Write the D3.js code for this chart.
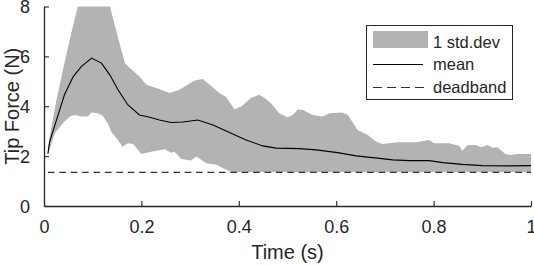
<!DOCTYPE html>
<html lang="en">
<head>
    <meta charset="UTF-8"/>
    <title>Tip Force</title>
    <script src="https://d3js.org/d3.v7.min.js"></script>
    <style>
        body {
            margin: 0;
            background: white;
        }

        text {
            font-family: "Liberation Sans", Arial, sans-serif;
            fill: #262626;
        }
    </style>
</head>
<body>
<div id="chart"></div>

<script>
    // mean tip force
    const meanT = [0.008, 0.012, 0.042, 0.06, 0.077, 0.098, 0.118, 0.135, 0.152, 0.172, 0.196, 0.217, 0.237, 0.261,
        0.285, 0.316, 0.347, 0.374, 0.415, 0.449, 0.477, 0.524, 0.559, 0.603, 0.641, 0.689, 0.716, 0.75, 0.791,
        0.819, 0.859, 0.9, 0.955, 1.0];
    const meanF = [2.1, 2.6, 4.46, 5.19, 5.6, 5.93, 5.73, 5.26, 4.66, 4.06, 3.65, 3.56, 3.45, 3.35,
        3.37, 3.45, 3.25, 3.01, 2.65, 2.41, 2.32, 2.3, 2.25, 2.14, 2.01, 1.91, 1.85, 1.82, 1.82,
        1.74, 1.67, 1.62, 1.61, 1.62];

    // mean + 1 std.dev
    const upperT = [0.008, 0.025, 0.042, 0.06, 0.072, 0.1, 0.133, 0.145, 0.166, 0.176, 0.196, 0.21, 0.231, 0.258,
        0.278, 0.309, 0.326, 0.336, 0.36, 0.374, 0.391, 0.405, 0.425, 0.442, 0.456, 0.466, 0.483, 0.5, 0.511,
        0.521, 0.531, 0.552, 0.572, 0.586, 0.613, 0.624, 0.644, 0.665, 0.682, 0.695, 0.709, 0.726, 0.764,
        0.791, 0.801, 0.832, 0.853, 0.859, 0.87, 0.887, 0.897, 0.911, 0.921, 0.931, 0.948, 0.959, 0.972, 1.0];
    const upperF = [2.38, 4.2, 5.73, 7.27, 8.2, 8.6, 8.2, 7.27, 5.73, 5.53, 5.19, 4.86, 4.73, 4.53,
        4.66, 5.03, 5.09, 4.93, 4.53, 4.37, 3.88, 3.99, 4.33, 4.46, 4.29, 4.12, 3.72, 3.56, 3.65,
        3.86, 3.86, 3.65, 3.59, 3.72, 3.75, 3.65, 3.05, 2.85, 2.58, 2.49, 2.52, 2.56, 2.56,
        2.65, 2.52, 2.52, 2.41, 2.22, 2.45, 2.45, 2.36, 2.45, 2.34, 2.36, 2.08, 2.05, 2.09, 2.09];

    // mean - 1 std.dev
    const lowerT = [0.008, 0.022, 0.039, 0.053, 0.063, 0.077, 0.09, 0.097, 0.111, 0.121, 0.131, 0.138, 0.152,
        0.161, 0.172, 0.183, 0.2, 0.22, 0.248, 0.261, 0.268, 0.282, 0.302, 0.313, 0.333, 0.354, 0.364, 0.377,
        0.385, 1.0];
    const lowerF = [2.05, 2.92, 3.32, 3.59, 3.65, 3.59, 3.59, 3.75, 3.72, 3.61, 3.32, 2.98, 2.65,
        2.38, 2.52, 2.49, 2.09, 2.18, 2.28, 2.14, 2.18, 1.88, 1.82, 1.98, 1.71, 1.65, 1.55, 1.42,
        1.36, 1.36];

    const deadbandT = [0.008, 1.0];
    const deadbandF = [1.35, 1.35];

    const xTicks = [0, 0.2, 0.4, 0.6, 0.8, 1];
    const yTicks = [0, 2, 4, 6, 8];
    const legendLabels = ["1 std.dev", "mean", "deadband"];

    const width = 534;
    const height = 266;
    const margin = {top: 6.5, right: 3, bottom: 60, left: 44};
    const gW = width - margin.left - margin.right;
    const gH = height - margin.top - margin.bottom;
    const axisColor = "#262626";
    const bandColor = "#b3b3b3";

    const svg = d3.select("#chart")
        .append("svg")
        .attr("width", width)
        .attr("height", height);

    const g = svg.append("g").attr("transform", `translate(${margin.left}, ${margin.top})`);

    const xScale = d3.scaleLinear().domain([0, 1]).range([0, gW]);
    const yScale = d3.scaleLinear().domain([0, 8]).range([gH, 0]);

    g.append("clipPath")
        .attr("id", "plotClip")
        .append("rect")
        .attr("width", gW)
        .attr("height", gH);

    const plot = g.append("g").attr("clip-path", "url(#plotClip)");

    // std.dev band: upper edge forward, lower edge back
    const band = upperT.map((t, i) => [t, upperF[i]])
        .concat(lowerT.map((t, i) => [t, lowerF[i]]).reverse());
    const line = d3.line()
        .x(d => xScale(d[0]))
        .y(d => yScale(d[1]));

    plot.append("path")
        .attr("d", line(band) + "Z")
        .attr("fill", bandColor)
        .attr("stroke", "none");

    plot.append("path")
        .attr("d", line(meanT.map((t, i) => [t, meanF[i]])))
        .attr("fill", "none")
        .attr("stroke", "black")
        .attr("stroke-width", 1.1);

    plot.append("path")
        .attr("d", line(deadbandT.map((t, i) => [t, deadbandF[i]])))
        .attr("fill", "none")
        .attr("stroke", "#333")
        .attr("stroke-width", 1.1)
        .attr("stroke-dasharray", "6.7,4.7");

    // X axis
    const xAxis = g.append("g")
        .attr("transform", `translate(0, ${gH})`)
        .call(d3.axisBottom(xScale).tickValues(xTicks).tickFormat(d => d).tickSizeInner(-5).tickSizeOuter(0).tickPadding(14));
    // Y axis
    const yAxis = g.append("g")
        .call(d3.axisLeft(yScale).tickValues(yTicks).tickSizeInner(-5).tickSizeOuter(0).tickPadding(14));

    [xAxis, yAxis].forEach(ax => {
        ax.select(".domain").attr("stroke", axisColor).attr("stroke-width", 1.3);
        ax.selectAll(".tick line").attr("stroke", axisColor).attr("stroke-width", 1.1);
        ax.selectAll(".tick text")
            .style("font-family", "'Liberation Sans', Arial, sans-serif")
            .style("font-size", "18px")
            .attr("fill", axisColor);
    });
    yAxis.selectAll(".tick text").attr("dy", "0.35em");

    // axis labels
    svg.append("text")
        .attr("x", margin.left + gW / 2)
        .attr("y", 259)
        .attr("text-anchor", "middle")
        .style("font-size", "20px")
        .text("Time (s)");

    svg.append("text")
        .attr("transform", `translate(19, ${margin.top + gH / 2}) rotate(-90)`)
        .attr("text-anchor", "middle")
        .style("font-size", "20px")
        .text("Tip Force (N)");

    // Legend
    const legend = svg.append("g").attr("transform", "translate(366, 25)");
    legend.append("rect")
        .attr("x", 0.5)
        .attr("y", 0.5)
        .attr("width", 146)
        .attr("height", 74)
        .attr("fill", "white")
        .attr("stroke", axisColor)
        .attr("stroke-width", 1);

    legend.append("rect")
        .attr("x", 7)
        .attr("y", 6)
        .attr("width", 55)
        .attr("height", 17)
        .attr("fill", bandColor);
    legend.append("line")
        .attr("x1", 7).attr("x2", 57)
        .attr("y1", 39.5).attr("y2", 39.5)
        .attr("stroke", "black")
        .attr("stroke-width", 1.1);
    legend.append("line")
        .attr("x1", 7).attr("x2", 58)
        .attr("y1", 62.5).attr("y2", 62.5)
        .attr("stroke", "#333")
        .attr("stroke-width", 1.1)
        .attr("stroke-dasharray", "9,5");

    legend.selectAll(".legend-text")
        .data(legendLabels)
        .join("text")
        .attr("class", "legend-text")
        .attr("x", 67)
        .attr("y", (d, i) => 22.5 + i * 22.7)
        .style("font-size", "16.5px")
        .text(d => d);
</script>
</body>
</html>
